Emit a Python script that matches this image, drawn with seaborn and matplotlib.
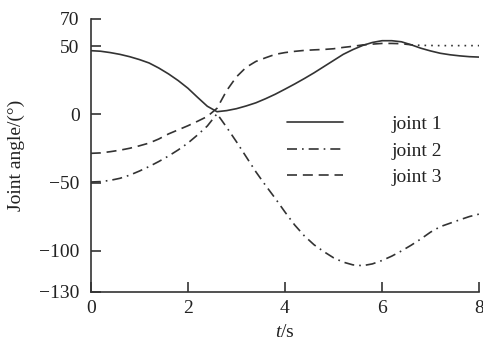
import numpy as np
import pandas as pd
import matplotlib
matplotlib.use("Agg")
import matplotlib.pyplot as plt
import seaborn as sns
from matplotlib.lines import Line2D

# values (every 0.2 s)
t = [0.0, 0.2, 0.4, 0.6, 0.8, 1.0, 1.2, 1.4, 1.6, 1.8, 2.0, 2.2, 2.4, 2.6,
     2.8, 3.0, 3.2, 3.4, 3.6, 3.8, 4.0, 4.2, 4.4, 4.6, 4.8, 5.0, 5.2, 5.4,
     5.6, 5.8, 6.0, 6.2, 6.4, 6.6, 6.8, 7.0, 7.2, 7.4, 7.6, 7.8, 8.0]
joint1 = [46.7, 46.3, 45.3, 44.0, 42.3, 40.2, 37.7, 34.0, 29.7, 24.8, 19.2,
          12.5, 6.0, 2.0, 2.8, 4.2, 6.2, 8.5, 11.5, 14.8, 18.5, 22.3, 26.3,
          30.5, 35.0, 39.5, 44.0, 47.5, 50.5, 52.7, 54.0, 54.0, 53.2, 51.0,
          48.5, 46.5, 44.8, 43.7, 42.9, 42.3, 42.0]
joint2 = [-49.5, -49.2, -48.3, -46.8, -44.5, -41.5, -38.2, -34.5, -30.5,
          -26.0, -21.0, -15.0, -8.5, 0.5, -9.5, -20.0, -31.0, -42.0, -52.0,
          -61.5, -71.5, -81.0, -89.0, -95.5, -100.5, -105.0, -108.2, -110.2,
          -110.8, -109.5, -107.0, -103.8, -100.0, -95.8, -91.2, -86.2, -82.2,
          -79.7, -77.2, -74.8, -73.0]
joint3 = [-28.5, -28.2, -27.3, -26.2, -24.8, -23.0, -21.0, -18.0, -14.3,
          -11.3, -8.3, -5.0, -1.5, 4.5, 17.5, 27.5, 34.5, 38.8, 41.5, 44.0,
          45.3, 46.2, 46.9, 47.3, 47.6, 48.1, 49.1, 49.9, 50.9, 51.5, 52.0,
          52.0, 51.8, 51.0, 50.6, 50.5, 50.4, 50.4, 50.4, 50.4, 50.4]
dotted_from = 6.6  # joint 3 goes on as a dotted line after this time

yticks = [70, 50, 0, -50, -100, -130]
xticks = [0, 2, 4, 6, 8]

df = pd.DataFrame({"t": t, "joint 1": joint1, "joint 2": joint2, "joint 3": joint3})

sns.set_style("ticks")
plt.rcParams["font.family"] = ["Liberation Serif", "DejaVu Serif"]
plt.rcParams["mathtext.fontset"] = "custom"
plt.rcParams["mathtext.it"] = "Liberation Serif:italic"
plt.rcParams["mathtext.rm"] = "Liberation Serif"

col = "#333333"
txt = "#222222"
lw = 1.2
fs = 14
dashdot = (0, (6, 3, 1, 3))
dashed = (0, (6, 3.5))

fig = plt.figure(figsize=(4.83, 3.43), dpi=100)
ax = fig.add_axes([0.188, 0.149, 0.804, 0.796])

sns.lineplot(data=df, x="t", y="joint 1", ax=ax, color=col, lw=lw, linestyle="-")
sns.lineplot(data=df, x="t", y="joint 2", ax=ax, color=col, lw=lw, linestyle=dashdot)
sns.lineplot(data=df[df["t"] <= dotted_from], x="t", y="joint 3", ax=ax,
             color=col, lw=lw, linestyle=dashed)
sns.lineplot(data=df[df["t"] >= dotted_from], x="t", y="joint 3", ax=ax,
             color=col, lw=lw, linestyle=(0, (1, 3)))

ax.set_xlim(0, 8)
ax.set_ylim(-130, 70)
ax.set_xticks(xticks)
ax.set_yticks(yticks)
ax.set_yticklabels([str(v).replace("-", "\u2212") for v in yticks])
ax.tick_params(direction="in", length=7, width=1.2, color=col,
               labelsize=fs, labelcolor=txt)
ax.tick_params(axis="y", pad=8)
ax.tick_params(axis="x", pad=6)
for s in ["top", "right"]:
    ax.spines[s].set_visible(False)
for s in ["left", "bottom"]:
    ax.spines[s].set_linewidth(1.2)
    ax.spines[s].set_color(col)

ax.set_xlabel("$t$/s", fontsize=fs, color=txt, labelpad=5)
ax.set_ylabel("Joint angle/(°)", fontsize=fs, color=txt, labelpad=10)

handles = [
    Line2D([], [], color=col, lw=lw, linestyle="-"),
    Line2D([], [], color=col, lw=lw, linestyle=dashdot),
    Line2D([], [], color=col, lw=lw, linestyle=dashed),
]
ax.legend(handles, ["joint 1", "joint 2", "joint 3"], frameon=False,
          fontsize=fs, handlelength=2.9, handletextpad=2.5,
          labelspacing=0.45, loc="upper left", bbox_to_anchor=(0.46, 0.71),
          labelcolor=txt)

fig.savefig("out.png", dpi=100)
